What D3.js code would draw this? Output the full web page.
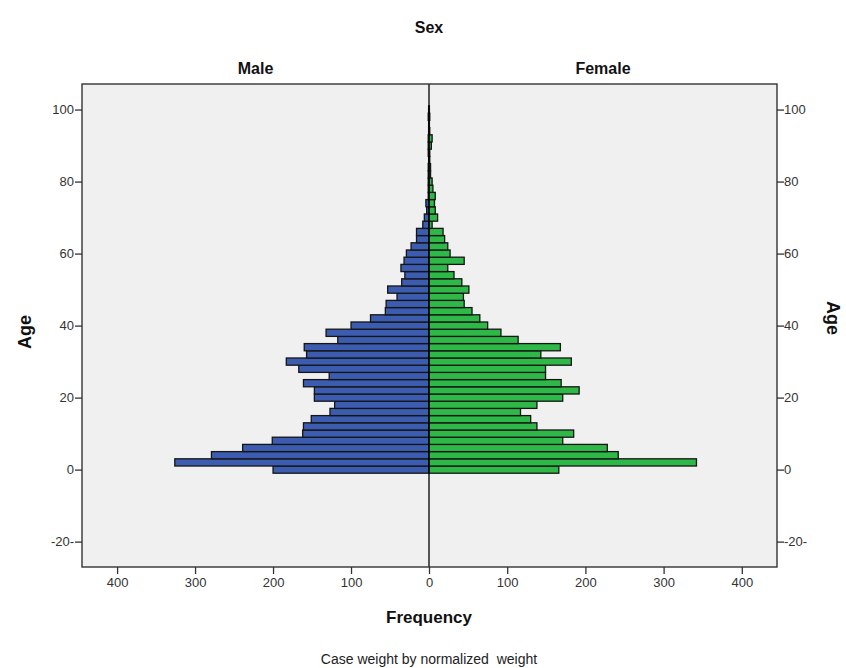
<!DOCTYPE html>
<html>
<head>
<meta charset="utf-8">
<script src="https://cdn.jsdelivr.net/npm/d3@7"></script>
<style>
  html, body { margin: 0; padding: 0; background: #fff; }
  svg { display: block; font-family: "Liberation Sans", Arial, sans-serif; }
</style>
</head>
<body>
<svg id="chart" width="846" height="668"></svg>
<script>
// ---- data ----
const ages = [0,2,4,6,8,10,12,14,16,18,20,22,24,26,28,30,32,34,36,38,40,42,44,46,48,50,52,54,56,58,60,62,64,66,68,70,72,74,76,78,80,82,84,86,88,90,92,94,96,98,100];
const maleFreq = [200,326,279,239,201,162,161,151,127,121,147,147,161,128,167,183,157,160,117,132,100,75,56,55,41,53,35,31,36,32,29,23,16,16,8,6,3,4,1,1,1,1,1,0.5,1,1,1,0.5,0.5,1,0.5];
const femaleFreq = [166,342,242,228,171,185,138,130,117,138,171,192,169,149,149,182,143,168,114,92,75,65,55,45,44,51,42,32,24,45,27,24,20,18,4,11,8,7,8,5,4,2,2,1,1,3,4,1,0.5,1,0.5];
const sexes = ["Male", "Female"];
const xTickValues = [0,100,200,300,400];
const yTickValues = [-20,0,20,40,60,80,100];
const binWidth = 2;

// ---- layout ----
const svg = d3.select("#chart");
const plot = {left: 82, right: 777, top: 84, bottom: 567};
const mid = 429;

const y = d3.scaleLinear().domain([-27.05, 107.1]).range([plot.bottom, plot.top]);
const xMale = d3.scaleLinear().domain([0, 445]).range([mid, plot.left]);
const xFemale = d3.scaleLinear().domain([0, 445]).range([mid, plot.right]);

// background
svg.append("rect")
  .attr("x", plot.left).attr("y", plot.top)
  .attr("width", plot.right - plot.left).attr("height", plot.bottom - plot.top)
  .attr("fill", "#f0f0f0");

const maleColor = "#3c5cb0";
const femaleColor = "#2eb847";

const rows = ages.map((a, i) => ({age: a, m: maleFreq[i], f: femaleFreq[i]}));

svg.append("g").selectAll("rect").data(rows).join("rect")
  .attr("x", d => xMale(d.m))
  .attr("y", d => y(d.age + binWidth / 2))
  .attr("width", d => mid - xMale(d.m))
  .attr("height", d => y(d.age - binWidth / 2) - y(d.age + binWidth / 2))
  .attr("fill", maleColor)
  .attr("stroke", "#151515")
  .attr("stroke-width", 1.3);

svg.append("g").selectAll("rect").data(rows).join("rect")
  .attr("x", mid)
  .attr("y", d => y(d.age + binWidth / 2))
  .attr("width", d => xFemale(d.f) - mid)
  .attr("height", d => y(d.age - binWidth / 2) - y(d.age + binWidth / 2))
  .attr("fill", femaleColor)
  .attr("stroke", "#151515")
  .attr("stroke-width", 1.3);

// middle line
svg.append("line")
  .attr("x1", mid).attr("x2", mid)
  .attr("y1", plot.top).attr("y2", plot.bottom)
  .attr("stroke", "#000").attr("stroke-width", 1.3);

// frame
svg.append("rect")
  .attr("x", plot.left).attr("y", plot.top)
  .attr("width", plot.right - plot.left).attr("height", plot.bottom - plot.top)
  .attr("fill", "none").attr("stroke", "#333").attr("stroke-width", 1.4);

// axes
const fmtY = d => d === -20 ? "-20-" : String(d);
function styleAxis(g) {
  g.select(".domain").remove();
  g.selectAll(".tick line").attr("stroke", "#333").attr("stroke-width", 1.3);
  g.selectAll(".tick text").attr("fill", "#333").style("font-size", "13px")
    .style("font-family", "'Liberation Sans', Arial, sans-serif");
}
svg.append("g").attr("transform", `translate(${plot.left},0)`)
  .call(d3.axisLeft(y).tickValues(yTickValues).tickFormat(fmtY).tickSize(7).tickPadding(1))
  .call(styleAxis);
svg.append("g").attr("transform", `translate(${plot.right},0)`)
  .call(d3.axisRight(y).tickValues(yTickValues).tickFormat(fmtY).tickSize(7).tickPadding(0))
  .call(styleAxis);
svg.append("g").attr("transform", `translate(0,${plot.bottom})`)
  .call(d3.axisBottom(xMale).tickValues(xTickValues).tickSize(7).tickPadding(4))
  .call(styleAxis);
svg.append("g").attr("transform", `translate(0,${plot.bottom})`)
  .call(d3.axisBottom(xFemale).tickValues(xTickValues.filter(v => v > 0)).tickSize(7).tickPadding(4))
  .call(styleAxis);

// titles
svg.append("text").attr("x", mid).attr("y", 33).attr("text-anchor", "middle")
  .attr("font-weight", "bold").attr("font-size", 16).attr("fill", "#111").text("Sex");
svg.append("text").attr("x", (plot.left + mid) / 2).attr("y", 74).attr("text-anchor", "middle")
  .attr("font-weight", "bold").attr("font-size", 16).attr("fill", "#111").text(sexes[0]);
svg.append("text").attr("x", (mid + plot.right) / 2).attr("y", 74).attr("text-anchor", "middle")
  .attr("font-weight", "bold").attr("font-size", 16).attr("fill", "#111").text(sexes[1]);
svg.append("text").attr("x", mid).attr("y", 623).attr("text-anchor", "middle")
  .attr("font-weight", "bold").attr("font-size", 17).attr("fill", "#111").text("Frequency");
svg.append("text").attr("x", mid).attr("y", 664).attr("text-anchor", "middle")
  .attr("font-size", 14).attr("fill", "#222").text("Case weight by normalized  weight").style("white-space", "pre");
svg.append("text").attr("transform", `translate(31,332) rotate(-90)`).attr("text-anchor", "middle")
  .attr("font-weight", "bold").attr("font-size", 18).attr("fill", "#111").text("Age");
svg.append("text").attr("transform", `translate(827,318) rotate(90)`).attr("text-anchor", "middle")
  .attr("font-weight", "bold").attr("font-size", 18).attr("fill", "#111").text("Age");
</script>
</body>
</html>
